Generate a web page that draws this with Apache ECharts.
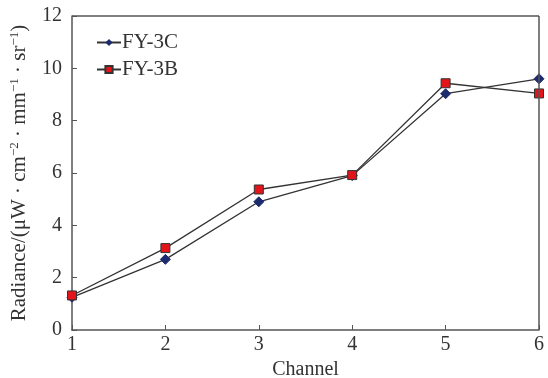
<!DOCTYPE html>
<html>
<head>
<meta charset="utf-8">
<script src="https://cdn.jsdelivr.net/npm/echarts@6/dist/echarts.min.js"></script>
<style>
html, body { margin: 0; padding: 0; background: #fff; }
#chart { width: 548px; height: 378px; }
</style>
</head>
<body>
<div id="chart"></div>
<script>
var channels = [1, 2, 3, 4, 5, 6];
var fy3c = [1.25, 2.7, 4.9, 5.9, 9.03, 9.6];
var fy3b = [1.32, 3.13, 5.37, 5.92, 9.43, 9.04];
var yTicks = [0, 2, 4, 6, 8, 10, 12];

function pairs(vals){
	return channels.map(function(c, i){ return [c, vals[i]]; });
}

var font = '"Liberation Serif", "Times New Roman", serif';
var chart = echarts.init(document.getElementById('chart'));
var option = {
	animation: false,
	textStyle: { fontFamily: font },
	grid: { left: 72, right: 9, top: 16, bottom: 48, containLabel: false, outerBoundsMode: 'none' },
	legend: {
		orient: 'vertical',
		left: 91,
		top: 27,
		itemGap: 6,
		itemWidth: 24,
		itemHeight: 9,
		textStyle: { fontFamily: font, fontSize: 21, color: '#333', padding: [0, 0, 0, -4] },
		data: ['FY-3C', 'FY-3B']
	},
	xAxis: {
		type: 'value',
		min: 1,
		max: 6,
		interval: 1,
		name: 'Channel',
		nameLocation: 'middle',
		nameGap: 28,
		nameTextStyle: { fontFamily: font, fontSize: 20, color: '#333' },
		axisLine: { show: true, lineStyle: { color: '#555', width: 1.5 } },
		axisTick: { show: true, inside: true, length: 5, lineStyle: { color: '#555' } },
		axisLabel: { fontFamily: font, fontSize: 20, color: '#333', margin: 5 },
		splitLine: { show: false }
	},
	yAxis: {
		type: 'value',
		min: yTicks[0],
		max: yTicks[yTicks.length - 1],
		interval: 2,
		name: '{t|Radiance/(μW · cm}{s|−2}{t| · mm}{s|−1}{t| · sr}{s|−1}{t|)}',
		nameLocation: 'middle',
		nameGap: 42,
		nameTextStyle: {
			rich: {
				t: { fontFamily: font, fontSize: 21, color: '#333', lineHeight: 22, verticalAlign: 'bottom' },
				s: { fontFamily: font, fontSize: 13, color: '#333', lineHeight: 22, verticalAlign: 'top' }
			}
		},
		axisLine: { show: true, lineStyle: { color: '#555', width: 1.5 } },
		axisTick: { show: true, inside: true, length: 5, lineStyle: { color: '#555' } },
		axisLabel: { fontFamily: font, fontSize: 20, color: '#333', margin: 10 },
		splitLine: { show: false }
	},
	series: [
		{
			name: 'FY-3C',
			type: 'line',
			data: pairs(fy3c),
			symbol: 'diamond',
			symbolSize: 10,
			lineStyle: { color: '#333', width: 1.3 },
			itemStyle: { color: '#1c2a6e', borderColor: '#1c2a6e' },
			z: 3
		},
		{
			name: 'FY-3B',
			type: 'line',
			data: pairs(fy3b),
			symbol: 'rect',
			symbolSize: 9,
			lineStyle: { color: '#333', width: 1.3 },
			itemStyle: { color: '#e3151b', borderColor: '#333', borderWidth: 1 },
			z: 4
		},
		{
			// right and top frame lines
			type: 'line',
			data: [],
			markLine: {
				silent: true,
				symbol: 'none',
				label: { show: false },
				lineStyle: { color: '#555', width: 1.5, type: 'solid' },
				data: [{ xAxis: 6 }, { yAxis: 12 }]
			}
		}
	]
};
chart.setOption(option);
</script>
</body>
</html>
